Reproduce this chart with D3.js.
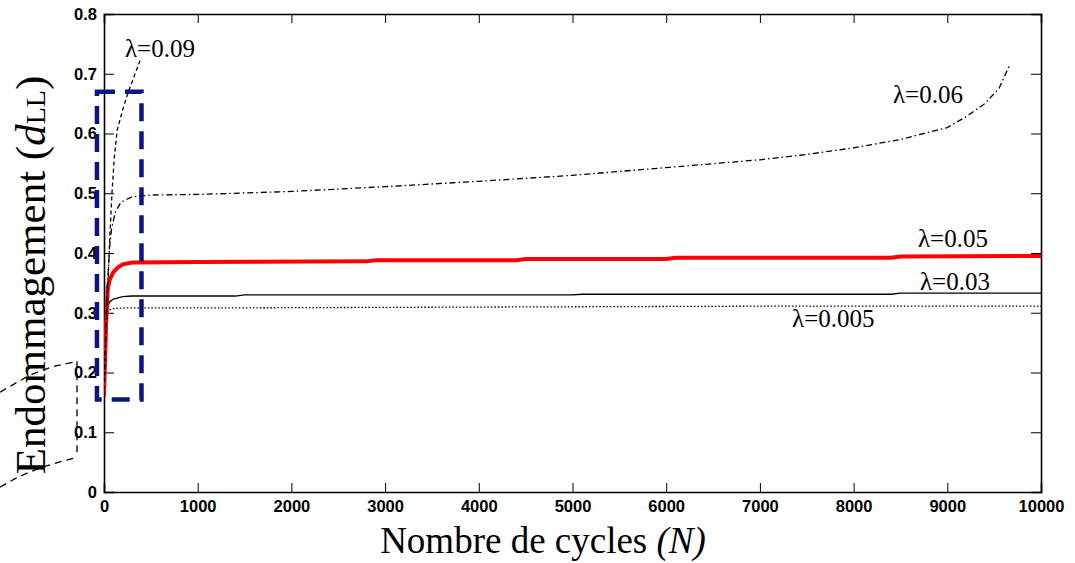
<!DOCTYPE html>
<html>
<head>
<meta charset="utf-8">
<script src="https://cdn.jsdelivr.net/npm/d3@7"></script>
<style>
body { margin: 0; background: #fff; }
svg { display: block; }
</style>
</head>
<body>
<svg id="canvas" width="1075" height="563"></svg>
<script>
// data (N = cycles, d = damage)
var xTicks = [0, 1000, 2000, 3000, 4000, 5000, 6000, 7000, 8000, 9000, 10000];
var yTicks = [0, 0.1, 0.2, 0.3, 0.4, 0.5, 0.6, 0.7, 0.8];

var n005 = [0, 20, 40, 60, 100, 200, 1000, 3000, 5000, 7000, 10000];
var d005 = [0.16, 0.27, 0.302, 0.305, 0.307, 0.308, 0.308, 0.309, 0.310, 0.311, 0.311];

var n003 = [0, 20, 40, 60, 100, 200, 300, 1400, 1500, 5000, 5100, 8400, 8500, 10000];
var d003 = [0.16, 0.26, 0.31, 0.318, 0.323, 0.327, 0.328, 0.328, 0.330, 0.330, 0.331, 0.331, 0.333, 0.333];

var n005b = [0, 20, 40, 60, 100, 150, 200, 300, 1000, 2800, 2900, 4400, 4500, 6000, 6100, 8400, 8500, 10000];
var d005b = [0.16, 0.27, 0.34, 0.355, 0.368, 0.376, 0.381, 0.384, 0.385, 0.386, 0.388, 0.388, 0.390, 0.390, 0.392, 0.392, 0.394, 0.395];

var n006 = [0, 30, 60, 80, 120, 180, 300, 500, 1000, 2000, 3000, 4000, 5000, 6000, 7000, 7500, 8000, 8500, 9000, 9200, 9400, 9550, 9670];
var d006 = [0.16, 0.33, 0.41, 0.44, 0.468, 0.485, 0.494, 0.497, 0.498, 0.503, 0.511, 0.52, 0.53, 0.543, 0.556, 0.565, 0.576, 0.59, 0.61, 0.628, 0.65, 0.675, 0.716];

var n009 = [0, 20, 40, 60, 85, 110, 140, 200, 260, 320, 384];
var d009 = [0.16, 0.26, 0.34, 0.42, 0.5, 0.56, 0.605, 0.64, 0.67, 0.695, 0.722];

// zoom box and the cut piece of inset at the far left
var boxN = [-75, 400];
var boxD = [0.155, 0.67];
var ghostUpN = [-1110, -900, -750, -600, -400, -310, -288];
var ghostUpD = [0.167, 0.186, 0.198, 0.207, 0.215, 0.218, 0.219];
var ghostVertN = [-288, -288];
var ghostVertD = [0.219, 0.058];
var ghostLowN = [-1110, -900, -700, -500, -288];
var ghostLowD = [0.008, 0.026, 0.039, 0.049, 0.058];

var labels = [
	{t: "0.09", n: 224, d: 0.728},
	{t: "0.06", n: 8420, d: 0.651},
	{t: "0.05", n: 8687, d: 0.41},
	{t: "0.03", n: 8708, d: 0.338},
	{t: "0.005", n: 7343, d: 0.276}
];

function zip(a, b){
	var out = [];
	for (var i in a){
		out.push([a[i], b[i]]);
	}
	return out;
}

function draw(){
	var svg = d3.select("#canvas");
	var x = d3.scaleLinear().domain([0, 10000]).range([104, 1041]);
	var y = d3.scaleLinear().domain([0, 0.8]).range([492, 14]);
	var line = d3.line()
		.x(function(d){ return x(d[0]); })
		.y(function(d){ return y(d[1]); })
		.curve(d3.curveMonotoneX);
	var straight = d3.line()
		.x(function(d){ return x(d[0]); })
		.y(function(d){ return y(d[1]); });

	svg.append("clipPath").attr("id", "plot")
		.append("rect")
		.attr("x", x(0)).attr("y", y(0.8))
		.attr("width", x(10000) - x(0)).attr("height", y(0) - y(0.8));

	// ghost inset fragment (outside the axes)
	var ghost = [zip(ghostUpN, ghostUpD), zip(ghostVertN, ghostVertD), zip(ghostLowN, ghostLowD)];
	svg.selectAll("path.ghost")
		.data(ghost)
		.enter()
		.append("path")
		.attr("class", "ghost")
		.attr("d", line)
		.attr("style", "fill: none; stroke: black; stroke-width: 1.3; stroke-dasharray: 7,5;");

	var axisStyle = "stroke: black; stroke-width: 1.6;";

	var bottom = d3.axisBottom(x).tickValues(xTicks).tickSize(-9).tickPadding(8).tickFormat(d3.format("d"));
	var top = d3.axisTop(x).tickValues(xTicks).tickSize(-9).tickFormat("");
	var left = d3.axisLeft(y).tickValues(yTicks).tickSize(-10).tickPadding(7).tickFormat(function(d){ return d === 0 ? "0" : d3.format(".1f")(d); });
	var right = d3.axisRight(y).tickValues(yTicks).tickSize(-10).tickFormat("");

	var gb = svg.append("g").attr("transform", "translate(0," + y(0) + ")").call(bottom);
	var gt = svg.append("g").attr("transform", "translate(0," + y(0.8) + ")").call(top);
	var gl = svg.append("g").attr("transform", "translate(" + x(0) + ",0)").call(left);
	var gr = svg.append("g").attr("transform", "translate(" + x(10000) + ",0)").call(right);
	[gb, gt, gl, gr].forEach(function(a){
		a.attr("font-family", "Arial, 'Liberation Sans', sans-serif")
			.attr("font-weight", "bold").attr("font-size", "16.5px");
		a.select(".domain").attr("style", axisStyle);
		a.selectAll(".tick line").attr("style", "stroke: black; stroke-width: 1;");
		a.selectAll("text").attr("fill", "black");
	});

	// curves
	var curves = [
		{p: zip(n005, d005), s: "stroke: black; stroke-width: 1.3; stroke-dasharray: 1.5,2;"},
		{p: zip(n003, d003), s: "stroke: black; stroke-width: 1.3;"},
		{p: zip(n005b, d005b), s: "stroke: #ff0000; stroke-width: 4;"},
		{p: zip(n006, d006), s: "stroke: black; stroke-width: 1.3; stroke-dasharray: 6,3,1.5,3;"},
		{p: zip(n009, d009), s: "stroke: black; stroke-width: 1.3; stroke-dasharray: 4,3;"}
	];
	svg.append("g").attr("clip-path", "url(#plot)")
		.selectAll("path")
		.data(curves)
		.enter()
		.append("path")
		.attr("d", function(d){ return straight(d.p); })
		.attr("style", function(d){ return "fill: none; " + d.s; });

	// zoom box
	svg.append("rect")
		.attr("x", x(boxN[0])).attr("y", y(boxD[1]))
		.attr("width", x(boxN[1]) - x(boxN[0]))
		.attr("height", y(boxD[0]) - y(boxD[1]))
		.attr("style", "fill: none; stroke: #0a1580; stroke-width: 4.5; stroke-dasharray: 18,10;");

	// curve labels
	svg.selectAll("text.lab")
		.data(labels)
		.enter()
		.append("text")
		.attr("class", "lab")
		.attr("x", function(d){ return x(d.n); })
		.attr("y", function(d){ return y(d.d); })
		.attr("font-family", "'Liberation Serif', 'Times New Roman', serif")
		.attr("font-size", "25px")
		.attr("fill", "black")
		.text(function(d){ return "\u03bb=" + d.t; });

	// axis titles
	var xt = svg.append("text")
		.attr("x", 543).attr("y", 553)
		.attr("text-anchor", "middle")
		.attr("font-family", "'Liberation Serif', 'Times New Roman', serif")
		.attr("font-size", "37px")
		.attr("fill", "black");
	xt.append("tspan").text("Nombre de cycles ");
	xt.append("tspan").attr("font-style", "italic").text("(N)");

	var yt = svg.append("text")
		.attr("transform", "translate(45,275) rotate(-90)")
		.attr("text-anchor", "middle")
		.attr("font-family", "'Liberation Serif', 'Times New Roman', serif")
		.attr("font-size", "43px")
		.attr("fill", "black");
	yt.append("tspan").text("Endommagement (");
	yt.append("tspan").attr("font-style", "italic").text("d");
	yt.append("tspan").attr("font-size", "28px").text("LL");
	yt.append("tspan").text(")");
}

draw();
</script>
</body>
</html>
